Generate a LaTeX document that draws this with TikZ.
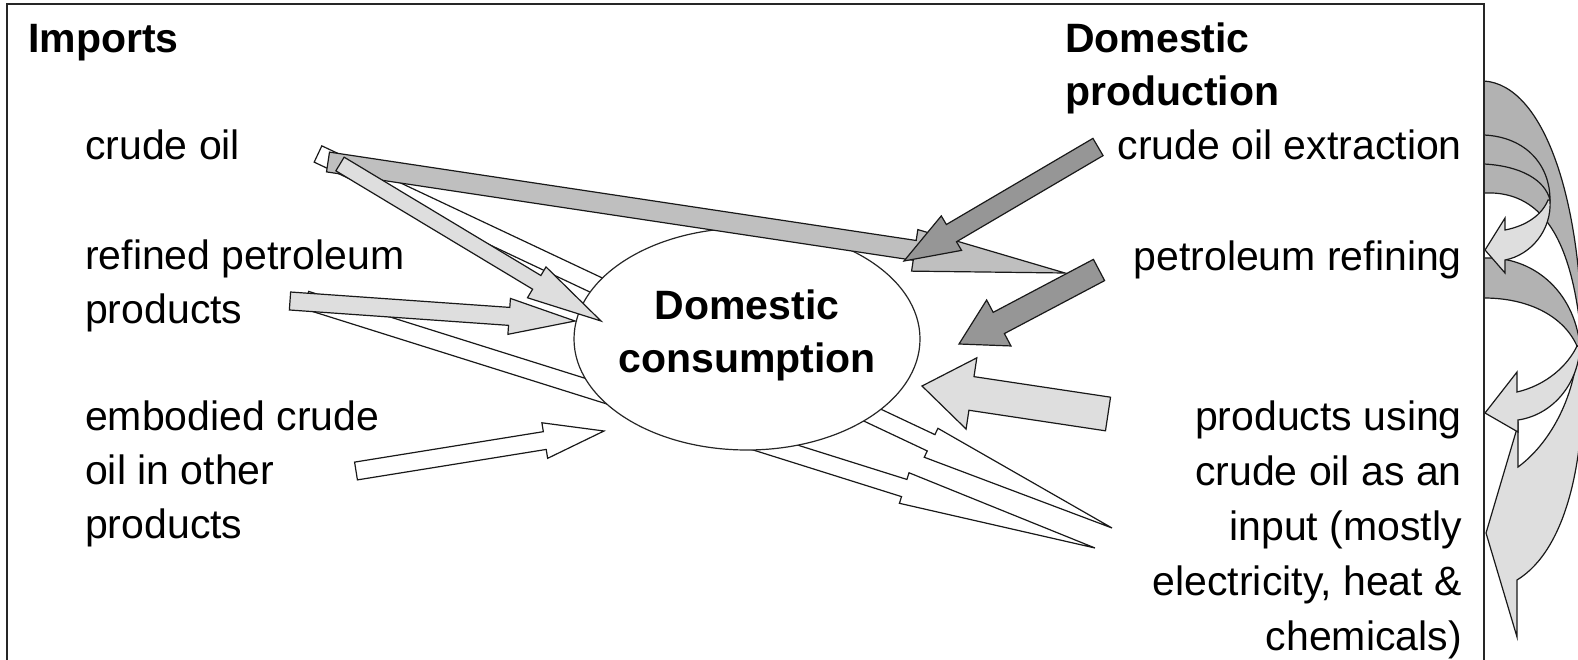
\documentclass[tikz,border=0pt]{standalone}
\usepackage{fontspec}
\setmainfont{Liberation Sans}
\usetikzlibrary{calc,shapes.geometric}

\definecolor{oildark}{gray}{0.59}
\definecolor{oilmid}{gray}{0.75}
\definecolor{oillight}{gray}{0.87}
\definecolor{oilband}{gray}{0.70}

% block arrow: style, from, to, half shaft, half head, head length
\newcommand{\fatarrow}[6]{%
  \coordinate (fa-h) at ($(#3)!#6!(#2)$);
  \draw[#1] ($(#2)!#4!90:(#3)$) -- ($(fa-h)!#4!90:(#3)$) -- ($(fa-h)!#5!90:(#3)$) -- (#3)
    -- ($(fa-h)!#5!-90:(#3)$) -- ($(fa-h)!#4!-90:(#3)$) -- ($(#2)!#4!-90:(#3)$) -- cycle;}

\begin{document}
\begin{tikzpicture}[x=1pt,y=-1pt,
            lab/.style={font=\fontsize{41}{54}\selectfont,inner sep=0,align=left,anchor=base west},
            rlab/.style={lab,font=\fontsize{41}{55}\selectfont,align=right,anchor=base east},
            head/.style={lab,font=\fontsize{41}{53}\selectfont\bfseries},
            arr/.style={draw=black!90,line width=1.2pt,line join=miter},
            whitearr/.style={arr,fill=white},
            lightarr/.style={arr,fill=oillight},
            midarr/.style={arr,fill=oilmid},
            darkarr/.style={arr,fill=oildark},
            band/.style={arr,fill=oilband},
            frame/.style={draw=black!85,line width=2pt}
          ]
          \useasboundingbox (0,0) rectangle (1578,660);

          %end points
          \coordinate (ci-w) at (318,154);
          \coordinate (rp-w) at (306,300);
          \coordinate (pu-w1) at (1112,528);
          \coordinate (pu-w2) at (1095,548);
          \coordinate (ci-m) at (328,162);
          \coordinate (pr-m) at (1065,273);
          \coordinate (ci-l) at (340,164);
          \coordinate (rp-l) at (290,301);
          \coordinate (eo-w) at (356,471);
          \coordinate (ce-d) at (1098,147);
          \coordinate (pr-d) at (1099,270);
          \coordinate (pu-l) at (1108,414);
          \coordinate (dc-1) at (601,321);
          \coordinate (dc-2) at (575,321);
          \coordinate (dc-3) at (604,431);
          \coordinate (dc-4) at (904,261);
          \coordinate (dc-5) at (959,344);
          \coordinate (dc-6) at (922,386);

          %embodied flows behind the consumption
          \fatarrow{whitearr}{rp-w}{pu-w2}{9pt}{16pt}{200pt}
          \fatarrow{whitearr}{ci-w}{pu-w1}{9pt}{16pt}{200pt}

          %consumption
          \node[draw=black!85,line width=1.2pt,fill=white,ellipse,minimum width=346pt,minimum height=222pt,inner sep=0] (cons) at (747,339) {};

          %imports
          \fatarrow{midarr}{ci-m}{pr-m}{10pt}{21pt}{152pt}
          \fatarrow{lightarr}{ci-l}{dc-1}{8pt}{18pt}{75pt}
          \fatarrow{lightarr}{rp-l}{dc-2}{9pt}{18pt}{66pt}
          \fatarrow{whitearr}{eo-w}{dc-3}{9pt}{18pt}{60pt}

          %domestic production
          \fatarrow{darkarr}{ce-d}{dc-4}{10pt}{20pt}{55pt}
          \fatarrow{darkarr}{pr-d}{dc-5}{12pt}{26pt}{45pt}
          \fatarrow{lightarr}{pu-l}{dc-6}{17pt}{36pt}{50pt}

          %curved arrows
          \draw[band] (1484,81) .. controls (1544,85) and (1582,200) .. (1582,345)
            .. controls (1574,250) and (1548,190) .. (1484,193) -- cycle;
          \draw[lightarr] (1582,345) .. controls (1588,460) and (1566,550) .. (1517,580) -- (1517,637)
            -- (1486,533) -- (1518,425) -- (1518,467) .. controls (1548,445) and (1575,400) .. (1578,345) -- cycle;
          \draw[band] (1484,258) .. controls (1532,256) and (1574,290) .. (1580,346)
            -- (1577,346) .. controls (1563,315) and (1527,298) .. (1484,298) -- cycle;
          \draw[lightarr] (1580,347) .. controls (1578,385) and (1552,415) .. (1518,420) -- (1518,432)
            -- (1485,413) -- (1517,372) -- (1517,392) .. controls (1547,385) and (1568,365) .. (1577,346) -- cycle;
          \draw[band] (1484,135) .. controls (1526,137) and (1550,165) .. (1550,200)
            .. controls (1545,180) and (1521,166) .. (1484,164) -- cycle;
          \draw[lightarr] (1550,200) .. controls (1552,230) and (1531,255) .. (1505,260) -- (1505,273)
            -- (1485,250) -- (1505,218) -- (1505,230) .. controls (1526,226) and (1542,215) .. (1548,200) -- cycle;

          %frame
          \draw[frame] (7,664) -- (7,4) -- (1484,4) -- (1484,664);

          %labels (base = last line)
          \node[head,align=center,anchor=center] (cons-lab) at (747,335) {Domestic\\consumption};
          \node[head] (imp) at (28,53) {Imports};
          \node[head] (dom) at (1065,106) {Domestic\\production};
          \node[lab] (crude) at (85,160) {crude oil};
          \node[lab] (refined) at (85,323) {refined petroleum\\products};
          \node[lab] (embodied) at (85,538) {embodied crude\\oil in other\\products};
          \node[rlab] (extract) at (1462,160) {crude oil extraction};
          \node[rlab] (refining) at (1462,270) {petroleum refining};
          \node[rlab] (using) at (1462,650) {products using\\crude oil as an\\input (mostly\\electricity, heat \&\\chemicals)};
      \end{tikzpicture}
\end{document}
